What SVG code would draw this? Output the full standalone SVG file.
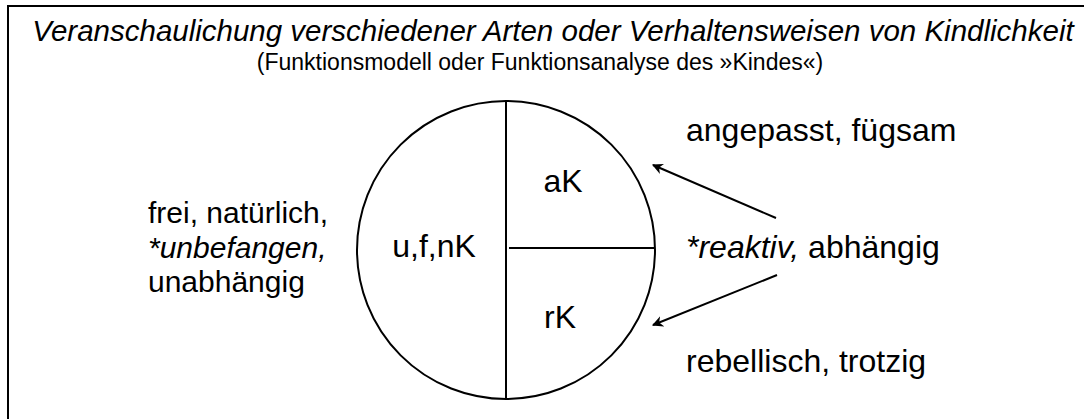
<svg xmlns="http://www.w3.org/2000/svg" width="1084" height="419" viewBox="0 0 1084 419">
<style>
text{font-family:"Liberation Sans",Arial,sans-serif;fill:#000}
.t{font-size:29.5px;font-style:italic}
.s{font-size:23px}
.l{font-size:32px}
.lf{font-size:30px}
.ln{stroke:#000;stroke-width:2;fill:none}
</style>
<defs>
<marker id="ah" viewBox="0 0 10 10" refX="9" refY="5" markerWidth="11" markerHeight="11" markerUnits="userSpaceOnUse" orient="auto">
<path d="M0,0 L10,5 L0,10 L3,5 Z" fill="#000"/>
</marker>
</defs>
<rect x="0" y="0" width="1084" height="419" fill="#fff"/>
<rect x="8" y="6" width="1090" height="430" fill="none" stroke="#000" stroke-width="2"/>
<text class="t" x="553" y="41" text-anchor="middle">Veranschaulichung verschiedener Arten oder Verhaltensweisen von Kindlichkeit</text>
<text class="s" x="540" y="70" text-anchor="middle">(Funktionsmodell oder Funktionsanalyse des »Kindes«)</text>
<g id="circle">
<circle class="ln" cx="506" cy="250" r="149"/>
<line class="ln" x1="506" y1="101" x2="506" y2="399"/>
<line class="ln" x1="509" y1="248" x2="655" y2="248"/>
</g>
<g id="ufnK"><text class="l" x="434" y="257" text-anchor="middle">u,f,nK</text></g>
<g id="aK"><text class="l" x="563" y="192" text-anchor="middle">aK</text></g>
<g id="rK"><text class="l" x="560" y="328" text-anchor="middle">rK</text></g>
<g id="left">
<text class="lf" x="148" y="223">frei, natürlich,</text>
<text class="lf" x="148" y="258" font-style="italic">*unbefangen,</text>
<text class="lf" x="148" y="292">unabhängig</text>
</g>
<g id="angepasst"><text class="l" x="686" y="141">angepasst, fügsam</text></g>
<g id="reaktiv"><text class="l" x="686" y="258"><tspan font-style="italic">*reaktiv,</tspan> abhängig</text></g>
<g id="rebellisch"><text class="l" x="686" y="372">rebellisch, trotzig</text></g>
<g id="connectors">
<line class="ln" x1="776" y1="218" x2="653" y2="165" marker-end="url(#ah)"/>
<line class="ln" x1="777" y1="275" x2="653" y2="325" marker-end="url(#ah)"/>
</g>
</svg>
